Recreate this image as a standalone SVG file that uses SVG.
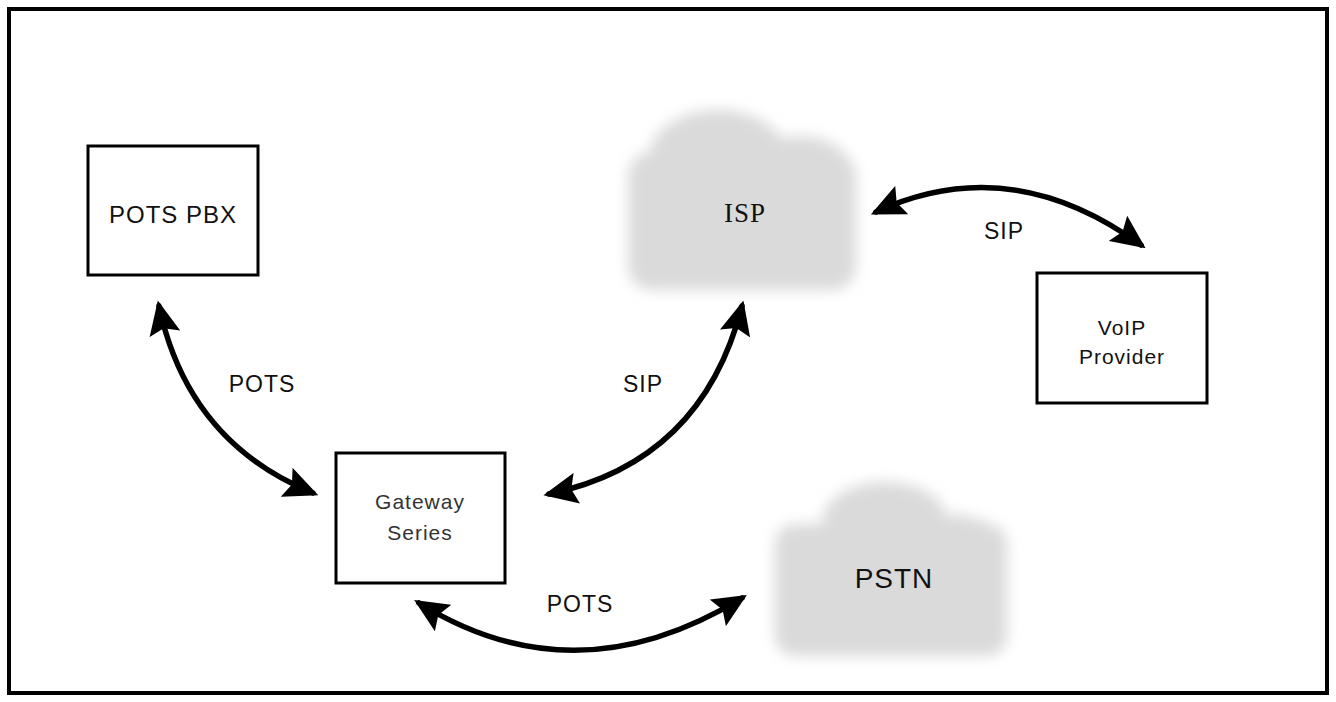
<svg xmlns="http://www.w3.org/2000/svg" width="1336" height="702" viewBox="0 0 1336 702">
<style>
.box{fill:#fff;stroke:#000;stroke-width:3}
.lbl{font-family:"Liberation Sans",Arial,sans-serif;font-size:23px;fill:#111;text-anchor:middle;letter-spacing:1px}
.conn{fill:none;stroke:#000;stroke-width:5.5;stroke-linecap:round}
.cloud{fill:#dadada}
</style>
<defs>
<marker id="ah" viewBox="0 0 24 22" refX="20" refY="11" markerWidth="6.2" markerHeight="5.7" orient="auto-start-reverse">
<path d="M0,0 L24,11 L0,22 L4,11 z" fill="#000"/>
</marker>
<filter id="blur" x="-20%" y="-20%" width="140%" height="140%"><feGaussianBlur stdDeviation="7"/></filter>
</defs>
<rect x="0" y="0" width="1336" height="702" fill="#fff"/>
<rect x="9" y="9" width="1318" height="684" fill="#fff" stroke="#000" stroke-width="4"/>

<g id="isp">
<g class="cloud" filter="url(#blur)">
<rect x="628" y="152" width="228" height="138" rx="24"/>
<ellipse cx="718" cy="155" rx="68" ry="45"/>
<ellipse cx="800" cy="172" rx="52" ry="36"/>
</g>
<text class="lbl" x="745" y="222" style="font-family:'Liberation Serif',serif;font-size:27px">ISP</text>
</g>

<g id="pstn">
<g class="cloud" filter="url(#blur)">
<rect x="775" y="524" width="232" height="132" rx="20"/>
<ellipse cx="885" cy="520" rx="62" ry="38"/>
<ellipse cx="955" cy="547" rx="48" ry="32"/>
</g>
<text class="lbl" x="894" y="588" style="font-size:28px">PSTN</text>
</g>

<g id="pots-pbx">
<rect class="box" x="88" y="146" width="170" height="129"/>
<text class="lbl" x="173" y="223" style="font-size:24px">POTS PBX</text>
</g>

<g id="voip">
<rect class="box" x="1037" y="273" width="170" height="130"/>
<text class="lbl" x="1122" y="335" style="font-size:21px">VoIP</text>
<text class="lbl" x="1122" y="364" style="font-size:21px">Provider</text>
</g>

<g id="gateway">
<rect class="box" x="336" y="453" width="169" height="130"/>
<text class="lbl" x="420" y="509" style="font-size:21px;fill:#333">Gateway</text>
<text class="lbl" x="420" y="540" style="font-size:21px;fill:#333">Series</text>
</g>

<g id="connectors">
<path class="conn" d="M159,306 Q188,442 313,493" marker-start="url(#ah)" marker-end="url(#ah)"/>
<path class="conn" d="M549,494 Q702,462 742,306" marker-start="url(#ah)" marker-end="url(#ah)"/>
<path class="conn" d="M876,212 Q1010,150 1141,245" marker-start="url(#ah)" marker-end="url(#ah)"/>
<path class="conn" d="M419,603 Q575,700 742,598" marker-start="url(#ah)" marker-end="url(#ah)"/>
<text class="lbl" x="262" y="392">POTS</text>
<text class="lbl" x="643" y="392">SIP</text>
<text class="lbl" x="1004" y="239">SIP</text>
<text class="lbl" x="580" y="612">POTS</text>
</g>
</svg>
